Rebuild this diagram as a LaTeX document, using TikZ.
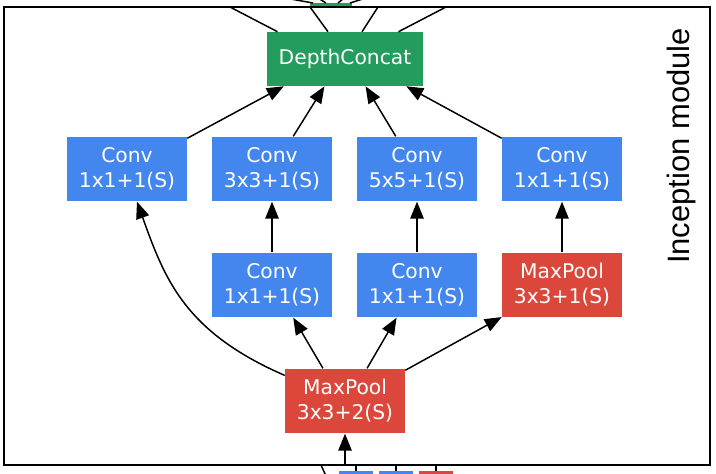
\documentclass[tikz,border=0pt]{standalone}
\usepackage{fontspec}
\setmainfont{DejaVu Sans}
\newfontfamily\labelfont{Liberation Sans}
\usetikzlibrary{arrows.meta}
\definecolor{convblue}{RGB}{66,134,238}
\definecolor{poolred}{RGB}{219,71,59}
\definecolor{concatgreen}{RGB}{35,156,94}
\tikzset{
  layer/.style={text=white, align=center, inner sep=0pt, minimum width=3cm, minimum height=1.62cm,
    font=\fontsize{14.4}{17.8}\selectfont},
  conv/.style={layer, fill=convblue},
  maxpool/.style={layer, fill=poolred},
  concat/.style={layer, fill=concatgreen, minimum width=3.9cm, minimum height=1.35cm},
  flow/.style={line width=1.05pt, -{Triangle[length=12pt,width=9.5pt]}},
  wire/.style={line width=1.05pt}
}

\begin{document}
\begin{tikzpicture}[x=0.025cm, y=-0.025cm]
\useasboundingbox (0,0) rectangle (716,473);

% pieces of the neighbouring modules, cut by the frame
\fill[concatgreen] (310,3) rectangle (352,8);
\draw[wire] (313,3) -- (285,-2);
\draw[wire] (326,3) -- (318,-2);
\draw[wire] (338,3) -- (344,-2);
\draw[wire] (350,3) -- (366,-2);
\fill[convblue] (339,471) rectangle (373,476);
\fill[convblue] (379,471) rectangle (413,476);
\fill[poolred] (419,471) rectangle (453,476);
\draw[wire] (356,465) -- (356,471);
\draw[wire] (396,465) -- (396,471);
\draw[wire] (436,465) -- (436,471);
\draw[wire] (321,465) -- (326,476);

% layers
\node[concat] (concat) at (345,59) {DepthConcat};

\node[conv] (conva) at (127,169) {Conv\\1x1+1(S)};
\node[conv] (convb) at (272,169) {Conv\\3x3+1(S)};
\node[conv] (convc) at (417,169) {Conv\\5x5+1(S)};
\node[conv] (convd) at (562,169) {Conv\\1x1+1(S)};

\node[conv] (redb) at (272,285) {Conv\\1x1+1(S)};
\node[conv] (redc) at (417,285) {Conv\\1x1+1(S)};
\node[maxpool] (poold) at (562,285) {MaxPool\\3x3+1(S)};

\node[maxpool] (poolin) at (345,401) {MaxPool\\3x3+2(S)};

\node[rotate=90, font=\labelfont\fontsize{22}{26}\selectfont] (title) at (681,146) {Inception module};

\coordinate (input) at (345,465);
\coordinate (outa) at (230,7);
\coordinate (outb) at (310,7);
\coordinate (outc) at (378,7);
\coordinate (outd) at (446,7);

% edges
\draw[flow] (input) -- (poolin);
\draw[flow] (poolin.157) .. controls (185,332) and (165,280) .. (conva.287);
\draw[flow] (poolin.124) -- (redb.303);
\draw[flow] (poolin.56) -- (redc.238);
\draw[flow] (poolin.27) -- (poold.208);

\draw[flow] (redb) -- (convb);
\draw[flow] (redc) -- (convc);
\draw[flow] (poold) -- (convd);

\draw[flow] (conva.27) -- (concat.204);
\draw[flow] (convb.57) -- (concat.233);
\draw[flow] (convc.123) -- (concat.307);
\draw[flow] (convd.153) -- (concat.336);

\draw[wire] (concat.158) -- (outa);
\draw[wire] (concat.122) -- (outb);
\draw[wire] (concat.58) -- (outc);
\draw[wire] (concat.27) -- (outd);

\draw[line width=2pt] (4,7) rectangle (710,465);

\end{tikzpicture}
\end{document}
